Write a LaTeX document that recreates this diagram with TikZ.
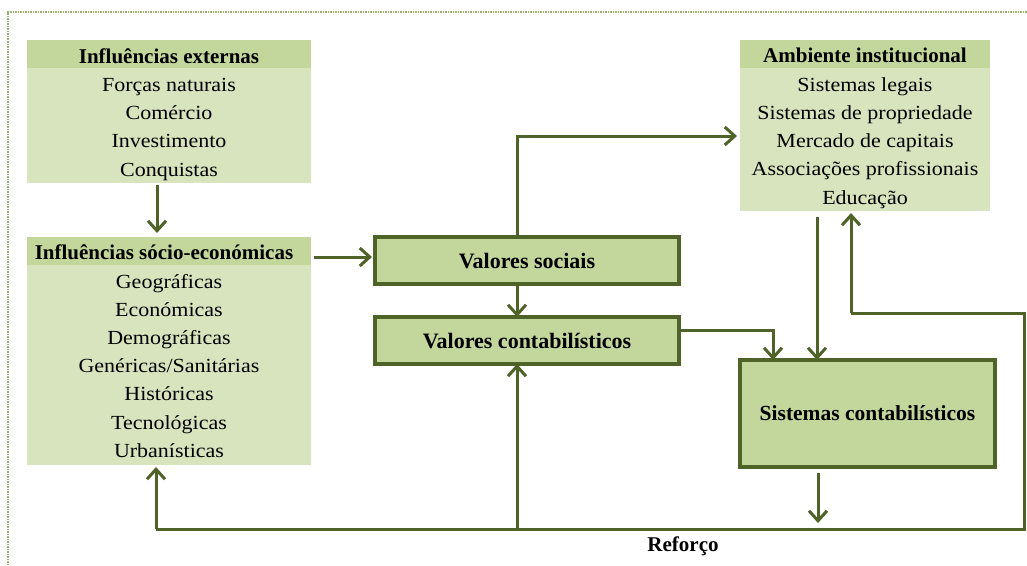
\documentclass[tikz,border=0pt]{standalone}
\usepackage{fontspec}
\setmainfont{Liberation Serif}
\newfontfamily\bodyfont{Liberation Serif}[FakeStretch=1.1]
\usetikzlibrary{arrows.meta}

\definecolor{hdrfill}{HTML}{C3D69B}
\definecolor{panelfill}{HTML}{D7E4BD}
\definecolor{olive}{HTML}{4F6228}
\definecolor{framegreen}{HTML}{98B071}

\tikzset{
  panel/.style={fill=panelfill, draw=none, anchor=north west, inner sep=0pt, outer sep=0pt},
  band/.style={fill=hdrfill, draw=none, anchor=north west, inner sep=0pt, outer sep=0pt,
               minimum height=28pt},
  hdrtext/.style={anchor=base, inner sep=0pt, font=\fontsize{21}{25}\selectfont\bfseries},
  itemtext/.style={anchor=base, inner sep=0pt, font=\bodyfont\fontsize{20}{24}\selectfont},
  valbox/.style={fill=hdrfill, draw=olive, line width=3.5pt, anchor=north west,
                 inner sep=0pt, outer sep=0pt},
  valtext/.style={anchor=base, inner sep=0pt, font=\fontsize{22}{26}\selectfont\bfseries},
  conn/.style={draw=olive, line width=3pt, -{Straight Barb[length=10pt,width=18pt]}},
  plain/.style={draw=olive, line width=3pt}
}

\begin{document}
\begin{tikzpicture}[x=1pt,y=-1pt]
\useasboundingbox (0,0) rectangle (1027,565);

% dotted outer frame
\draw[framegreen, line width=2.5pt, dash pattern=on 1.5pt off 1pt] (8,565) -- (8,12) -- (1027,12);

% Influências externas
\node[panel, minimum width=284pt, minimum height=143pt] (ext) at (27,40) {};
\node[band, minimum width=284pt] (exth) at (27,40) {};
\node[hdrtext] (extt) at (169,63) {Influências externas};
\foreach \t [count=\i] in {Forças naturais, Comércio, Investimento, Conquistas}
  \node[itemtext] (ext-\i) at (169,{91.5+28.2*(\i-1)}) {\t};

% Influências sócio-económicas
\node[panel, minimum width=284pt, minimum height=228pt] (soc) at (27,237) {};
\node[band, minimum width=284pt] (soch) at (27,237) {};
\node[hdrtext] (soct) at (164,259) {Influências sócio-económicas};
\foreach \t [count=\i] in {Geográficas, Económicas, Demográficas, Genéricas/Sanitárias,
                           Históricas, Tecnológicas, Urbanísticas}
  \node[itemtext] (soc-\i) at (169,{288.5+28.1*(\i-1)}) {\t};

% Ambiente institucional
\node[panel, minimum width=250pt, minimum height=171pt] (amb) at (740,40) {};
\node[band, minimum width=250pt] (ambh) at (740,40) {};
\node[hdrtext] (ambt) at (865,62) {Ambiente institucional};
\foreach \t [count=\i] in {Sistemas legais, Sistemas de propriedade, Mercado de capitais,
                           Associações profissionais, Educação}
  \node[itemtext] (amb-\i) at (865,{91+28.25*(\i-1)}) {\t};

% Valores and Sistemas boxes
\node[valbox, minimum width=304pt, minimum height=47pt] (vs) at (375,237) {};
\node[valtext] (vst) at (527,268) {Valores sociais};
\node[valbox, minimum width=304pt, minimum height=47pt] (vc) at (375,317) {};
\node[valtext] (vct) at (527,348) {Valores contabilísticos};
\node[valbox, minimum width=255pt, minimum height=107pt] (sc) at (740,360) {};
\node[valtext, font=\fontsize{21.5}{26}\selectfont\bfseries] (sct) at (867.5,420) {Sistemas contabilísticos};

% feedback loop coordinates
\coordinate (fbL) at (156,529);
\coordinate (fbM) at (517,529);
\coordinate (fbR) at (1024,529);
\coordinate (fbT) at (1024,313);
\coordinate (fbA) at (851,313);

% connectors
\draw[conn] ([xshift=-12pt,yshift=-2pt]ext.south) -- ([xshift=-12pt,yshift=4pt]soc.north);
\draw[conn] ([xshift=3pt,yshift=3.5pt]soch.east |- vs.west) -- ([xshift=-3pt,yshift=3.5pt]vs.west);
\draw[conn] ([xshift=-10pt]vs.south) -- ([xshift=-10pt]vc.north);
\draw[conn] ([xshift=-10pt]vs.north) |- ([xshift=-3pt,yshift=-10.5pt]amb.west);
\draw[conn] ([yshift=10.5pt]vc.east) -| ([xshift=-94.5pt]sc.north);
\coordinate (a6) at ([xshift=-48pt,yshift=-6pt]amb.south);
\draw[conn] (a6) -- (a6 |- sc.north);
\coordinate (s1) at ([xshift=-49.5pt,yshift=-6pt]sc.south);
\draw[conn] (s1) -- ([yshift=6pt]s1 |- fbL);

\draw[plain] (fbL) -- (fbR) -- (fbT) -- (fbA);
\draw[conn] (fbA) -- ([yshift=-2pt]fbA |- amb.south);
\draw[conn] (fbL) -- ([yshift=-2pt]fbL |- soc.south);
\draw[conn] ([yshift=-2pt]fbM) -- (fbM |- vc.south);

\node[hdrtext] (ref) at (683,551) {Reforço};
\end{tikzpicture}
\end{document}
